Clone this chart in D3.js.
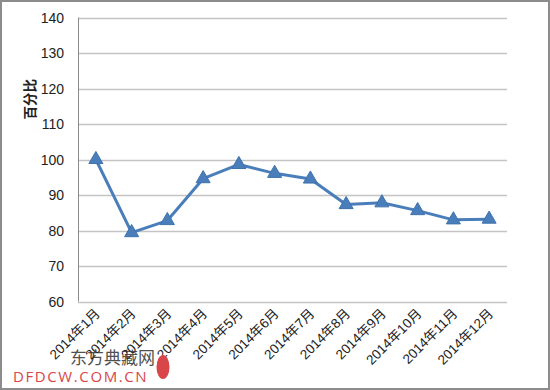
<!DOCTYPE html>
<html>
<head>
<meta charset="utf-8">
<script src="https://cdn.jsdelivr.net/npm/d3@7"></script>
<style>
  html, body { margin: 0; padding: 0; background: #fff; }
  svg { display: block; }
</style>
</head>
<body>
<svg id="chart" width="550" height="390"></svg>
<script>
// chart data
var months = ["2014年1月", "2014年2月", "2014年3月", "2014年4月", "2014年5月", "2014年6月",
              "2014年7月", "2014年8月", "2014年9月", "2014年10月", "2014年11月", "2014年12月"];
var percent_values = [100, 79.4, 82.8, 94.6, 98.6, 96.1, 94.5, 87.3, 87.8, 85.6, 83.0, 83.2];
var y_ticks = [60, 70, 80, 90, 100, 110, 120, 130, 140];
var y_label = "百分比";

var svg = d3.select("#chart");
var width = 550, height = 390;
var margin = {left: 78, right: 43, top: 17.5, bottom: 88.5};

// outer frame
svg.append("rect")
    .attr("x", 1).attr("y", 1)
    .attr("width", width - 2).attr("height", height - 2)
    .attr("fill", "#fff")
    .attr("stroke", "#8c8c8c")
    .attr("stroke-width", 2);

var x = d3.scaleBand()
    .domain(months)
    .range([margin.left, width - margin.right]);

var y = d3.scaleLinear()
    .domain([60, 140])
    .range([height - margin.bottom, margin.top]);

// gridlines
svg.append("g")
    .selectAll("line")
    .data(y_ticks)
    .enter().append("line")
    .attr("x1", margin.left)
    .attr("x2", width - margin.right)
    .attr("y1", function(d) { return Math.round(y(d)) + 0.5; })
    .attr("y2", function(d) { return Math.round(y(d)) + 0.5; })
    .attr("stroke", "#c4c4c4")
    .attr("stroke-width", 1.5);

// y axis line
svg.append("line")
    .attr("x1", margin.left + 0.5).attr("x2", margin.left + 0.5)
    .attr("y1", y(140)).attr("y2", y(60))
    .attr("stroke", "#8c8c8c")
    .attr("stroke-width", 1);

// y tick labels
svg.append("g")
    .selectAll("text")
    .data(y_ticks)
    .enter().append("text")
    .attr("x", 64)
    .attr("y", function(d) { return y(d); })
    .attr("dy", "0.36em")
    .attr("text-anchor", "end")
    .attr("font-family", "'Liberation Sans', Arial, sans-serif")
    .attr("font-size", "14px")
    .attr("fill", "#222")
    .text(function(d) { return d; });

// y axis title
svg.append("text")
    .attr("transform", "translate(35," + y(117) + ") rotate(-90)")
    .attr("text-anchor", "middle")
    .attr("font-family", "'Noto Sans CJK SC', sans-serif")
    .attr("font-weight", "bold")
    .attr("font-size", "13.5px")
    .attr("fill", "#222")
    .text(y_label);

// x tick labels
svg.append("g")
    .selectAll("text")
    .data(months)
    .enter().append("text")
    .attr("transform", function(d)
    {
        var cx = x(d) + x.bandwidth() / 2 + 5;
        return "translate(" + cx + "," + (height - margin.bottom + 13) + ") rotate(-45)";
    })
    .attr("text-anchor", "end")
    .attr("font-family", "'Liberation Sans', Arial, 'Noto Sans CJK SC', sans-serif")
    .attr("font-size", "13.5px")
    .attr("fill", "#222")
    .text(function(d) { return d; });

// series line
var line = d3.line()
    .x(function(d, i) { return x(months[i]) + x.bandwidth() / 2; })
    .y(function(d) { return y(d); });

svg.append("path")
    .datum(percent_values)
    .attr("d", line)
    .attr("fill", "none")
    .attr("stroke", "#4a7ebb")
    .attr("stroke-width", 3)
    .attr("stroke-linejoin", "round");

// triangle markers
var triangle = d3.symbol().type(d3.symbolTriangle).size(85);
svg.append("g")
    .selectAll("path")
    .data(percent_values)
    .enter().append("path")
    .attr("transform", function(d, i)
    {
        return "translate(" + (x(months[i]) + x.bandwidth() / 2) + "," + y(d) + ")";
    })
    .attr("d", triangle)
    .attr("fill", "#4a7ebb")
    .attr("stroke", "#3f72ad")
    .attr("stroke-width", 1);

// watermark
svg.append("text")
    .attr("x", 70).attr("y", 364)
    .attr("font-family", "'Noto Sans CJK SC', sans-serif")
    .attr("font-size", "17px")
    .attr("fill", "#333")
    .attr("opacity", 0.85)
    .text("东方典藏网");

svg.append("text")
    .attr("x", 13).attr("y", 382)
    .attr("font-family", "'Open Sans', 'Liberation Sans', sans-serif")
    .attr("font-size", "15px")
    .attr("letter-spacing", "1.6px")
    .attr("fill", "#d8464a")
    .text("DFDCW.COM.CN");

svg.append("ellipse")
    .attr("cx", 163).attr("cy", 367)
    .attr("rx", 6.5).attr("ry", 12)
    .attr("fill", "#d8464a");
</script>
</body>
</html>
